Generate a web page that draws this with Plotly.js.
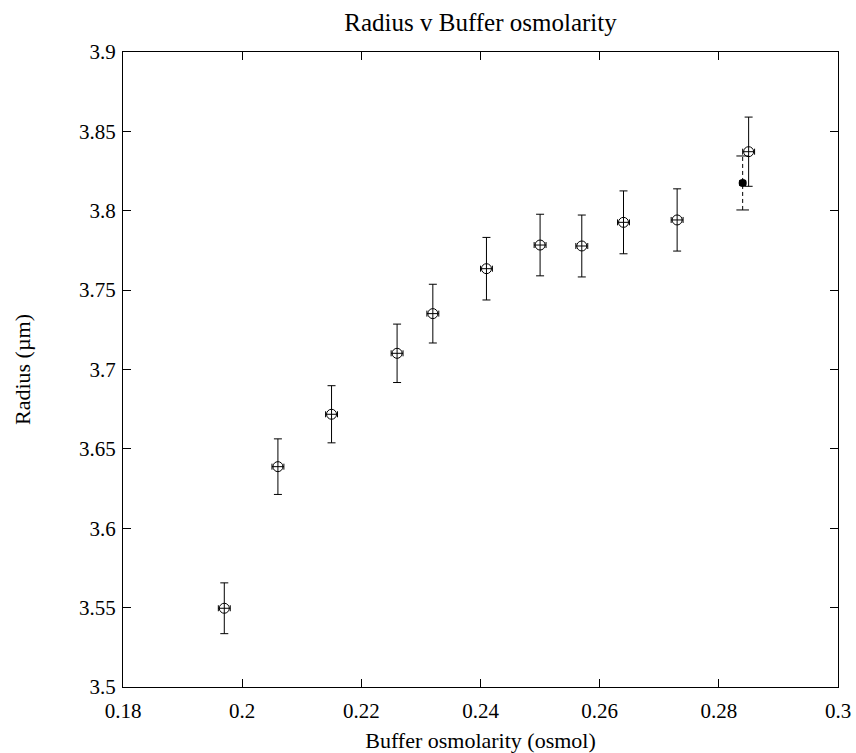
<!DOCTYPE html>
<html>
<head>
<meta charset="utf-8">
<script src="https://cdn.plot.ly/plotly-3.0.1.min.js"></script>
<style>html,body{margin:0;padding:0;background:#fff;}#chart{width:856px;height:753px;}</style>
</head>
<body>
<div id="chart"></div>
<script>
// Open-circle measurements
const osmol = [0.197, 0.206, 0.215, 0.226, 0.232, 0.241, 0.250, 0.257, 0.264, 0.273, 0.285];
const radius = [3.5496, 3.6388, 3.6718, 3.7102, 3.7352, 3.7635, 3.7784, 3.7778, 3.7927, 3.7942, 3.8372];
const radiusErr = [0.016, 0.0175, 0.018, 0.0184, 0.0185, 0.0197, 0.0194, 0.0195, 0.0198, 0.0196, 0.0218];
const osmolErr = [0.001, 0.001, 0.001, 0.001, 0.001, 0.001, 0.001, 0.001, 0.001, 0.001, 0.001];

// Filled reference point (dashed error bar)
const refOsmol = [0.284];
const refRadius = [3.8175];
const refRadiusErr = [0.017];
const refOsmolErr = [0.0005];

const xTicks = [0.18, 0.2, 0.22, 0.24, 0.26, 0.28, 0.3];
const xTickText = ["0.18", "0.2", "0.22", "0.24", "0.26", "0.28", "0.3"];
const yTicks = [3.5, 3.55, 3.6, 3.65, 3.7, 3.75, 3.8, 3.85, 3.9];
const yTickText = ["3.5", "3.55", "3.6", "3.65", "3.7", "3.75", "3.8", "3.85", "3.9"];

const FONT = "Liberation Serif, Times New Roman, serif";

// dashed error segment for the reference point, built from data
const dashX = [], dashY = [];
refOsmol.forEach((x, i) => {
  dashX.push(x, x, null);
  dashY.push(refRadius[i] - refRadiusErr[i], refRadius[i] + refRadiusErr[i], null);
});
const capX = [], capY = [];
refOsmol.forEach((x, i) => {
  capX.push(x, x);
  capY.push(refRadius[i] - refRadiusErr[i], refRadius[i] + refRadiusErr[i]);
});

const traces = [
  {
    x: dashX, y: dashY, mode: 'lines', type: 'scatter',
    line: {color: '#000', width: 1, dash: '4px,3px'},
    hoverinfo: 'skip', showlegend: false
  },
  {
    x: capX, y: capY, mode: 'markers', type: 'scatter',
    marker: {symbol: 'line-ew', size: 9, line: {color: '#000', width: 1}},
    hoverinfo: 'skip', showlegend: false
  },
  {
    x: refOsmol, y: refRadius, mode: 'markers', type: 'scatter',
    marker: {symbol: 'circle', size: 8, color: '#000'},
    error_x: {type: 'data', array: refOsmolErr, color: '#000', thickness: 1, width: 3},
    showlegend: false
  },
  {
    x: osmol, y: radius, mode: 'markers', type: 'scatter',
    marker: {symbol: 'circle-open', size: 10, color: '#000', line: {width: 1, color: '#000'}},
    error_y: {type: 'data', array: radiusErr, visible: true, color: '#000', thickness: 1, width: 4},
    error_x: {type: 'data', array: osmolErr, visible: true, color: '#000', thickness: 1, width: 3},
    showlegend: false
  }
];

const axisCommon = {
  showline: true, linecolor: '#000', linewidth: 1, mirror: 'ticks',
  ticks: 'inside', ticklen: 8, tickcolor: '#000', tickwidth: 1,
  showgrid: false, zeroline: false,
  tickfont: {family: FONT, size: 21, color: '#000'},
  tickmode: 'array', automargin: false
};

const layout = {
  width: 856, height: 753,
  margin: {l: 123, r: 18, t: 52, b: 66},
  paper_bgcolor: '#fff', plot_bgcolor: '#fff',
  title: {text: 'Radius v Buffer osmolarity', font: {family: FONT, size: 25, color: '#000'},
          x: 0.5, xanchor: 'center', y: 0.971, yanchor: 'middle', xref: 'paper'},
  xaxis: Object.assign({}, axisCommon, {
    range: [0.18, 0.3], tickvals: xTicks, ticktext: xTickText, ticklabelstandoff: 5,
    title: {text: 'Buffer osmolarity (osmol)', font: {family: FONT, size: 22, color: '#000'}, standoff: 14}
  }),
  yaxis: Object.assign({}, axisCommon, {
    range: [3.5, 3.9], tickvals: yTicks, ticktext: yTickText, ticklabelstandoff: 2,
    title: {text: 'Radius (µm)', font: {family: FONT, size: 22, color: '#000'}, standoff: 42}
  }),
  showlegend: false
};

Plotly.newPlot('chart', traces, layout, {displayModeBar: false, staticPlot: true});
</script>
</body>
</html>
